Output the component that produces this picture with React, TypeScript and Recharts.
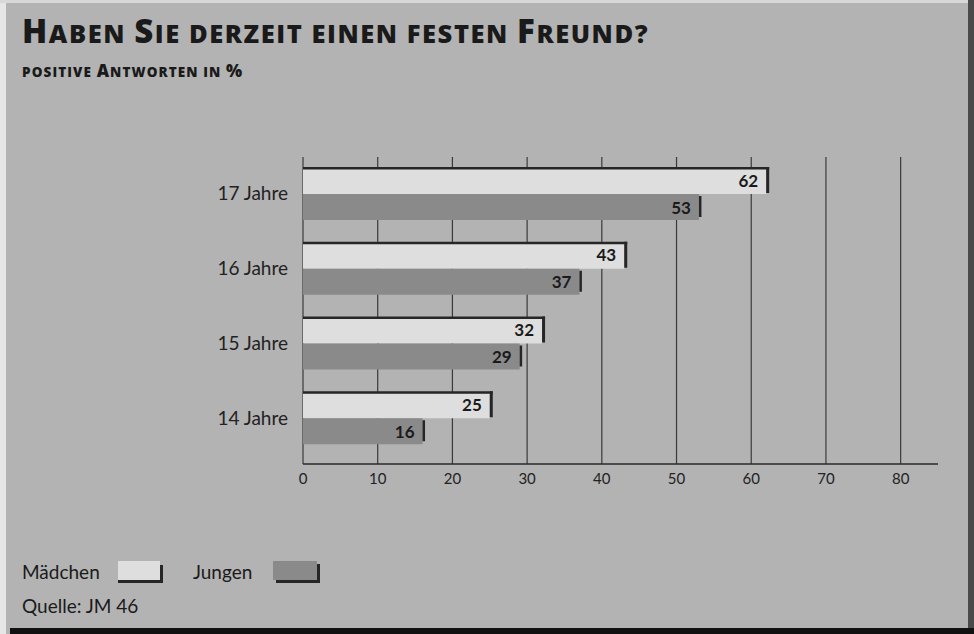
import React from "react";
import { BarChart, Bar, XAxis, YAxis, CartesianGrid, LabelList } from "recharts";

const categories = ["17 Jahre", "16 Jahre", "15 Jahre", "14 Jahre"];
const maedchen = [62, 43, 32, 25];
const jungen = [53, 37, 29, 16];
const xTicks = [0, 10, 20, 30, 40, 50, 60, 70, 80];

const data = categories.map((c, i) => ({ cat: c, m: maedchen[i], j: jungen[i] }));

const FONT = "Lato, 'Open Sans', sans-serif";
const DARK = "#262626";

const MShape = (p: any) => {
  const { x, y, width, height } = p;
  return (
    <g>
      <rect x={x} y={y + 2} width={width} height={height - 2} fill="#dedede" />
      <rect x={x} y={y} width={width + 3} height={2.5} fill={DARK} />
      <rect x={x + width} y={y} width={3} height={height - 1} fill={DARK} />
    </g>
  );
};

const JShape = (p: any) => {
  const { x, y, width, height } = p;
  return (
    <g>
      <rect x={x} y={y} width={width} height={height - 1} fill="#8a8a8a" />
      <rect x={x + width} y={y + 2} width={2.5} height={height - 6} fill={DARK} />
    </g>
  );
};

const YTick = (p: any) => {
  const { x, y, payload } = p;
  return (
    <text x={x - 7} y={y} dy={6} textAnchor="end" fontFamily={FONT} fontSize={19} fill="#222">
      {payload.value}
    </text>
  );
};

const XTick = (p: any) => {
  const { x, y, payload } = p;
  return (
    <text x={x} y={y} dy={12} textAnchor="middle" fontFamily={FONT} fontSize={15} fill="#222">
      {payload.value}
    </text>
  );
};

const gridGen = (props: any) => {
  const ax = props && props.xAxis;
  const scale = ax && ax.scale;
  if (typeof scale === "function") {
    const bw = typeof scale.bandwidth === "function" ? scale.bandwidth() / 2 : 0;
    return xTicks.map((t) => scale(t) + bw);
  }
  const off = props.offset;
  return xTicks.map((t) => off.left + (t / 85) * off.width);
};

const Title = () => {
  const big = { fontSize: 33 };
  const small = { fontSize: 25.5 };
  return (
    <div
      style={{
        position: "absolute",
        left: 22,
        top: 10,
        fontFamily: "'Open Sans', sans-serif",
        fontWeight: 800,
        color: "#1a1a1a",
        letterSpacing: 1.55,
        whiteSpace: "nowrap",
        lineHeight: "42px",
      }}
    >
      <span style={big}>H</span>
      <span style={small}>ABEN </span>
      <span style={big}>S</span>
      <span style={small}>IE DERZEIT EINEN FESTEN </span>
      <span style={big}>F</span>
      <span style={small}>REUND?</span>
    </div>
  );
};

const Subtitle = () => (
  <div
    style={{
      position: "absolute",
      left: 22,
      top: 60,
      fontFamily: "'Open Sans', sans-serif",
      fontWeight: 800,
      color: "#1a1a1a",
      letterSpacing: 1.1,
      whiteSpace: "nowrap",
      lineHeight: "22px",
    }}
  >
    <span style={{ fontSize: 13.5 }}>POSITIVE </span>
    <span style={{ fontSize: 17 }}>A</span>
    <span style={{ fontSize: 13.5 }}>NTWORTEN IN </span>
    <span style={{ fontSize: 17 }}>%</span>
  </div>
);

export default function App() {
  return (
    <div
      style={{
        position: "fixed",
        left: 0,
        top: 0,
        width: 974,
        height: 634,
        background: "#b3b3b3",
        overflow: "hidden",
      }}
    >
      <div style={{ position: "absolute", left: 0, top: 0, width: 6, height: 634, background: "#e6e6e6" }} />
      <div style={{ position: "absolute", left: 0, top: 0, width: 974, height: 3, background: "#d8d8d8" }} />
      <div style={{ position: "absolute", left: 968, top: 0, width: 6, height: 634, background: "#4a4a4a" }} />
      <div style={{ position: "absolute", left: 10, top: 628, width: 964, height: 6, background: "#111" }} />
      <Title />
      <Subtitle />
      <div style={{ position: "absolute", left: 0, top: 0 }}>
        <BarChart
          width={974}
          height={634}
          data={data}
          layout="vertical"
          margin={{ top: 157, right: 36, bottom: 130, left: 0 }}
          barGap={0}
          barSize={27}
        >
          <CartesianGrid
            horizontal={false}
            vertical={true}
            stroke="#3a3a3a"
            strokeWidth={1.2}
            verticalCoordinatesGenerator={gridGen}
          />
          <XAxis
            type="number"
            domain={[0, 85]}
            ticks={xTicks}
            tickLine={false}
            axisLine={{ stroke: "#2a2a2a", strokeWidth: 1.5 }}
            tick={<XTick />}
            height={40}
            allowDataOverflow
          />
          <YAxis
            type="category"
            dataKey="cat"
            width={303}
            axisLine={false}
            tickLine={false}
            tick={<YTick />}
            padding={{ top: 0, bottom: 8 }}
          />
          <Bar dataKey="m" shape={<MShape />} isAnimationActive={false}>
            <LabelList
              dataKey="m"
              position="insideRight"
              offset={8}
              fill="#1a1a1a"
              fontFamily={FONT}
              fontWeight={700}
              fontSize={17}
            />
          </Bar>
          <Bar dataKey="j" shape={<JShape />} isAnimationActive={false}>
            <LabelList
              dataKey="j"
              position="insideRight"
              offset={8}
              fill="#1a1a1a"
              fontFamily={FONT}
              fontWeight={700}
              fontSize={17}
            />
          </Bar>
        </BarChart>
      </div>
      <div
        style={{
          position: "absolute",
          left: 22,
          top: 559,
          fontFamily: FONT,
          fontSize: 19,
          color: "#1a1a1a",
          lineHeight: "26px",
        }}
      >
        Mädchen
      </div>
      <div style={{ position: "absolute", left: 118, top: 561, width: 42, height: 19, background: "#dedede" }} />
      <div style={{ position: "absolute", left: 118, top: 580, width: 45, height: 3, background: DARK }} />
      <div style={{ position: "absolute", left: 160, top: 565, width: 3, height: 18, background: DARK }} />
      <div
        style={{
          position: "absolute",
          left: 193,
          top: 559,
          fontFamily: FONT,
          fontSize: 19,
          color: "#1a1a1a",
          lineHeight: "26px",
        }}
      >
        Jungen
      </div>
      <div style={{ position: "absolute", left: 273, top: 561, width: 44, height: 19, background: "#8a8a8a" }} />
      <div style={{ position: "absolute", left: 276, top: 580, width: 44, height: 3, background: DARK }} />
      <div style={{ position: "absolute", left: 317, top: 564, width: 3, height: 19, background: DARK }} />
      <div
        style={{
          position: "absolute",
          left: 22,
          top: 593,
          fontFamily: FONT,
          fontSize: 19,
          color: "#1a1a1a",
          lineHeight: "26px",
        }}
      >
        Quelle: JM 46
      </div>
    </div>
  );
}
